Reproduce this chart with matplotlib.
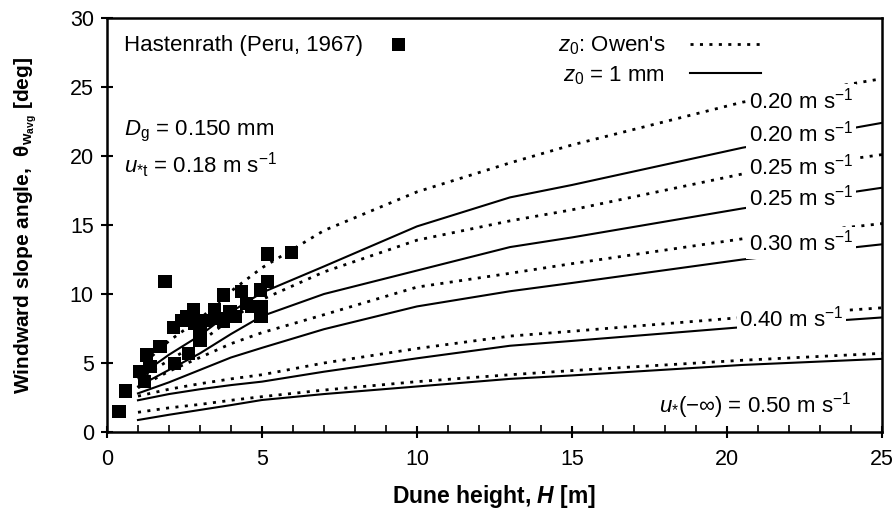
import matplotlib
matplotlib.use("Agg")
import matplotlib.pyplot as plt
from matplotlib.ticker import MultipleLocator

plt.rcParams['font.family'] = ['Liberation Sans', 'DejaVu Sans']
plt.rcParams['mathtext.fontset'] = 'custom'
plt.rcParams['mathtext.rm'] = 'Liberation Sans'
plt.rcParams['mathtext.it'] = 'Liberation Sans:italic'
plt.rcParams['mathtext.bf'] = 'Liberation Sans:bold'
plt.rcParams['mathtext.bfit'] = 'Liberation Sans:italic:bold'

# dune height [m] at which the model curves are sampled
H = [1, 2, 3, 4, 5, 7, 10, 13, 15, 20.5, 25]

# windward slope angle [deg]; "owen" = Owen's z0, "mm" = z0 = 1 mm
owen_020 = [4.6, 6.6, 8.2, 10.2, 11.9, 14.6, 17.4, 19.5, 20.8, 23.9, 25.6]
mm_020 = [4.0, 5.6, 7.0, 8.7, 10.1, 12.0, 14.9, 17.0, 17.9, 20.6, 22.4]
owen_025 = [3.8, 5.2, 6.5, 8.2, 9.6, 11.6, 13.9, 15.3, 16.1, 18.7, 20.1]
mm_025 = [3.3, 4.5, 5.7, 7.1, 8.4, 10.0, 11.7, 13.4, 14.1, 16.2, 17.7]
owen_030 = [3.2, 4.4, 5.4, 6.4, 7.2, 8.5, 10.5, 11.5, 12.2, 14.0, 15.1]
mm_030 = [2.8, 3.6, 4.5, 5.4, 6.1, 7.45, 9.1, 10.2, 10.8, 12.5, 13.6]
owen_040 = [2.6, 3.1, 3.5, 3.85, 4.15, 5.0, 6.05, 6.95, 7.3, 8.3, 9.0]
mm_040 = [2.3, 2.75, 3.1, 3.4, 3.65, 4.37, 5.34, 6.25, 6.6, 7.6, 8.3]
owen_050 = [1.43, 1.75, 2.0, 2.3, 2.56, 3.04, 3.65, 4.15, 4.45, 5.2, 5.7]
mm_050 = [0.87, 1.25, 1.6, 1.95, 2.32, 2.75, 3.3, 3.85, 4.1, 4.86, 5.3]

# Hastenrath (Peru, 1967) field measurements
obs_H = [0.39, 0.6, 1.06, 1.2, 1.28, 1.39, 1.71, 1.87, 2.14, 2.19, 2.41, 2.57,
         2.62, 2.78, 2.84, 3.0, 3.0, 3.16, 3.48, 3.59, 3.75, 3.75, 3.97, 4.13,
         4.34, 4.5, 4.67, 4.94, 4.97, 4.99, 5.17, 5.17, 5.96]
obs_theta = [1.47, 2.97, 4.37, 3.65, 5.58, 4.73, 6.18, 10.9, 7.58, 4.98, 8.1, 8.36,
             5.7, 8.84, 7.88, 7.39, 6.67, 8.1, 8.84, 8.24, 9.93, 8.0, 8.72, 8.36,
             10.17, 9.33, 9.08, 10.29, 8.36, 9.08, 10.9, 12.9, 13.0]

fig = plt.figure(figsize=(8.96, 5.18), dpi=100)
ax = fig.add_axes([0.1194, 0.166, 0.865, 0.7993])

dot = (0, (1.1, 2.3))
pairs = [(owen_020, mm_020), (owen_025, mm_025), (owen_030, mm_030),
         (owen_040, mm_040), (owen_050, mm_050)]
h_owen = h_mm = None
for ow, mm in pairs:
    l1, = ax.plot(H, ow, color='black', lw=2.0, ls=dot, zorder=2)
    l2, = ax.plot(H, mm, color='black', lw=1.5, ls='-', zorder=2)
    h_owen = h_owen or l1
    h_mm = h_mm or l2

h_obs = ax.scatter(obs_H, obs_theta, marker='s', s=90, color='black',
                   edgecolors='none', zorder=3)

fs = 16
# curve labels with white boxes hiding the lines behind them
lab_kw = dict(fontsize=fs, ha='left', va='center', zorder=4,
              bbox=dict(facecolor='white', edgecolor='none', pad=2.0))
ax.text(20.7, 24.05, '0.20 m s$^{-1}$', **lab_kw)
ax.text(20.7, 21.65, '0.20 m s$^{-1}$', **lab_kw)
ax.text(20.7, 19.2, '0.25 m s$^{-1}$', **lab_kw)
ax.text(20.7, 17.0, '0.25 m s$^{-1}$', **lab_kw)
ax.text(20.7, 13.7, '0.30 m s$^{-1}$', **lab_kw)
ax.text(20.4, 8.25, '0.40 m s$^{-1}$', **lab_kw)
ax.text(17.8, 1.95, r'$u_{*}(-\infty)$ = 0.50 m s$^{-1}$', **lab_kw)

ax.text(0.55, 21.75, r'$D_{\rm g}$ = 0.150 mm', fontsize=fs, ha='left', va='center')
ax.text(0.55, 19.3, r'$u_{*{\rm t}}$ = 0.18 m s$^{-1}$', fontsize=fs,
        ha='left', va='center')

leg1 = ax.legend([h_obs], ['Hastenrath (Peru, 1967)'], loc='upper left',
                 bbox_to_anchor=(0.0, 1.0), frameon=False, markerfirst=False,
                 fontsize=fs, handlelength=1.4, handletextpad=0.9,
                 borderaxespad=0.35, scatterpoints=1)
ax.add_artist(leg1)
ax.legend([h_owen, h_mm], ["$z_0$: Owen's", '$z_0$ = 1 mm'], loc='upper left',
          bbox_to_anchor=(0.56, 1.0), frameon=False, markerfirst=False,
          fontsize=fs, handlelength=3.2, handletextpad=1.1,
          labelspacing=0.3, borderaxespad=0.35)

ax.set_xlim(0, 25)
ax.set_ylim(0, 30)
ax.xaxis.set_major_locator(MultipleLocator(5))
ax.xaxis.set_minor_locator(MultipleLocator(1))
ax.yaxis.set_major_locator(MultipleLocator(5))
ax.tick_params(which='major', direction='inout', length=9, width=1.5,
               labelsize=15.5, pad=5)
ax.tick_params(which='minor', direction='in', length=5, width=1.2)
ax.tick_params(axis='x', pad=8)
for s in ax.spines.values():
    s.set_linewidth(1.8)

ax.set_xlabel('Dune height, $\\mathbfit{H}$ [m]', fontsize=16.5,
              fontweight='bold', labelpad=9)
ax.set_ylabel(r'Windward slope angle,  θ$_{\mathbf{w_{avg}}}$ [deg]',
              fontsize=15, fontweight='bold', labelpad=22)

fig.savefig('out.png', dpi=100)
